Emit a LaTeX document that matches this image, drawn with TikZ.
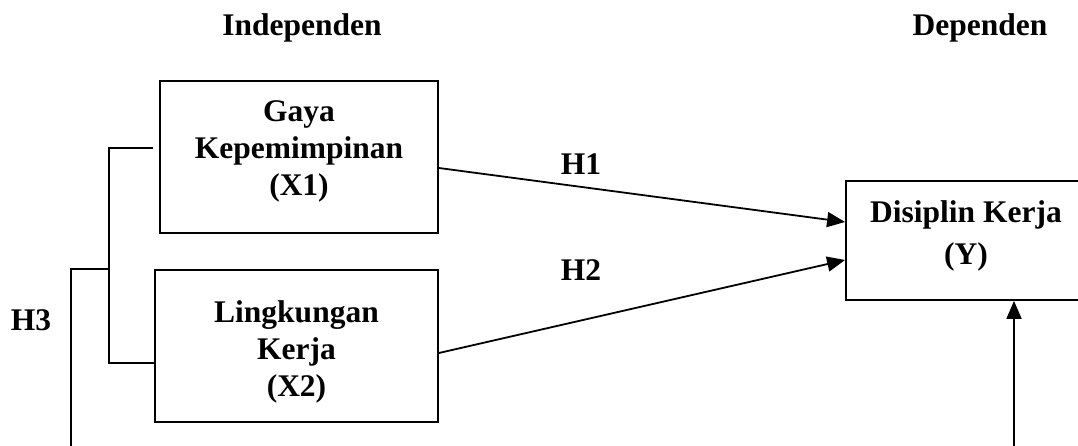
\documentclass[tikz,border=0pt]{standalone}
\usepackage{fontspec}
\setmainfont{Liberation Serif}
\usetikzlibrary{arrows.meta,calc}
\begin{document}
\begin{tikzpicture}[x=1pt,y=-1pt,
  box/.style={draw, line width=1.8pt, inner sep=0pt},
  lbl/.style={font=\fontsize{31.5}{37}\selectfont\bfseries, align=center, inner sep=0pt},
  link/.style={line width=1.8pt},
  arr/.style={line width=1.8pt, -{Triangle[length=18pt,width=15pt]}}
]
\useasboundingbox (0,0) rectangle (1078,446);

% column headings
\node[lbl, anchor=base] (hind) at (302,36) {Independen};
\node[lbl, anchor=base] (hdep) at (980,36) {Dependen};

% variable boxes
\node[box, minimum width=278pt, minimum height=152pt] (x1) at (299,157) {};
\node[box, minimum width=283pt, minimum height=152pt] (x2) at (296.5,346) {};
\node[box, minimum width=240pt, minimum height=119pt] (y) at (966,240.5) {};

% box texts
\node[lbl, anchor=north] (x1t) at (299,100.3) {Gaya\\Kepemimpinan\\(X1)};
\node[lbl, anchor=north] (x2t) at (296.5,300.7) {Lingkungan\\Kerja\\(X2)};
\node[lbl, anchor=north] (yt) at (966,200.7) {Disiplin Kerja\\[5pt](Y)};

% hypothesis labels
\node[lbl, anchor=base] (h1) at (581,174.5) {H1};
\node[lbl, anchor=base] (h2) at (581,280.5) {H2};
\node[lbl, anchor=base] (h3) at (31,330) {H3};

% partial effects
\draw[arr] ([yshift=-11pt]x1.east) -- ([yshift=18.5pt]y.west);
\draw[arr] ([yshift=-7pt]x2.east) -- ([yshift=-19.5pt]y.west);

% joint effect: bracket joining X1 and X2
\coordinate (j) at (109,269);
\draw[link] ([xshift=-6pt,yshift=9pt]x1.west) -| (j) |- ([yshift=-17pt]x2.west);
\draw[arr] (j) -- (71,269) -- (71,470) -| ([xshift=48pt]y.south);

\end{tikzpicture}
\end{document}
